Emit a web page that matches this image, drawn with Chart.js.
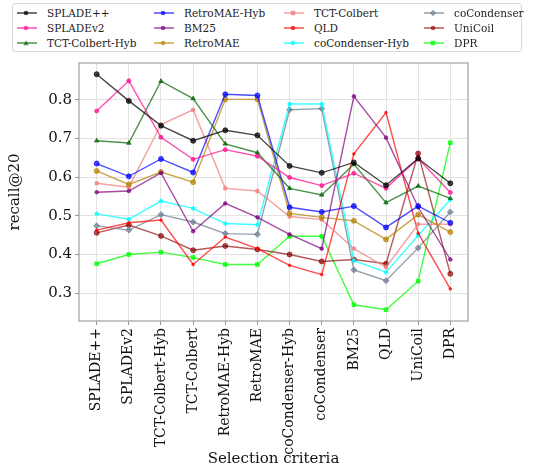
<!DOCTYPE html>
<html>
<head>
<meta charset="utf-8">
<script src="https://cdn.jsdelivr.net/npm/chart.js@4"></script>
<style>
    body { margin: 0; background: #fff; }
    #wrap { position: relative; width: 534px; height: 468px; }
    #legend {
        position: absolute; left: 12px; top: 3px; width: 508px; height: 47px;
        border: 1px solid #d8d8d8; border-radius: 3px; background: #fff;
        font-family: "DejaVu Serif", serif; font-size: 10.5px; color: #222;
    }
    .item { position: absolute; height: 14px; line-height: 14px; white-space: nowrap; }
    .item svg { position: absolute; left: 0; top: 2px; }
    .item span { position: absolute; left: 31px; top: 0; }
</style>
</head>
<body>
<div id="wrap">
    <canvas id="chart" width="534" height="468"></canvas>
    <div id="legend"></div>
</div>
<script>
// categories on the x axis
const categories = ['SPLADE++', 'SPLADEv2', 'TCT-Colbert-Hyb', 'TCT-Colbert', 'RetroMAE-Hyb', 'RetroMAE',
    'coCondenser-Hyb', 'coCondenser', 'BM25', 'QLD', 'UniCoil', 'DPR'];

// recall@20 per series
const spladePP       = [0.866, 0.797, 0.733, 0.694, 0.721, 0.708, 0.629, 0.611, 0.638, 0.579, 0.648, 0.584];
const spladeV2       = [0.771, 0.849, 0.703, 0.646, 0.671, 0.654, 0.599, 0.578, 0.610, 0.571, 0.648, 0.560];
const tctColbertHyb  = [0.694, 0.688, 0.848, 0.803, 0.686, 0.663, 0.571, 0.554, 0.633, 0.534, 0.577, 0.545];
const retroMaeHyb    = [0.635, 0.602, 0.647, 0.612, 0.814, 0.811, 0.522, 0.510, 0.525, 0.470, 0.525, 0.482];
const bm25           = [0.561, 0.564, 0.611, 0.460, 0.532, 0.496, 0.452, 0.415, 0.809, 0.702, 0.522, 0.387];
const retroMae       = [0.616, 0.581, 0.613, 0.587, 0.801, 0.801, 0.506, 0.496, 0.487, 0.439, 0.503, 0.458];
const tctColbert     = [0.584, 0.574, 0.736, 0.774, 0.571, 0.564, 0.498, 0.490, 0.415, 0.367, 0.478, 0.478];
const qld            = [0.463, 0.482, 0.489, 0.374, 0.445, 0.415, 0.372, 0.348, 0.660, 0.767, 0.455, 0.311];
const coCondenserHyb = [0.505, 0.491, 0.538, 0.519, 0.480, 0.477, 0.789, 0.789, 0.384, 0.354, 0.449, 0.542];
const coCondenser    = [0.474, 0.463, 0.503, 0.484, 0.454, 0.452, 0.774, 0.777, 0.360, 0.332, 0.417, 0.510];
const uniCoil        = [0.456, 0.476, 0.448, 0.411, 0.422, 0.413, 0.400, 0.382, 0.387, 0.376, 0.661, 0.350];
const dpr            = [0.376, 0.400, 0.406, 0.392, 0.374, 0.374, 0.447, 0.447, 0.270, 0.257, 0.331, 0.689];

const yTicks = [0.3, 0.4, 0.5, 0.6, 0.7, 0.8];

// legend order is column by column like the original
const series = [
    { label: 'SPLADE++',        data: spladePP,       color: 'rgba(0,0,0,0.72)',       point: 'circle',   r: 2.5 },
    { label: 'SPLADEv2',        data: spladeV2,       color: 'rgba(255,20,147,0.75)',  point: 'circle',   r: 2 },
    { label: 'TCT-Colbert-Hyb', data: tctColbertHyb,  color: 'rgba(0,100,0,0.7)',      point: 'triangle', r: 2.5 },
    { label: 'RetroMAE-Hyb',    data: retroMaeHyb,    color: 'rgba(0,0,255,0.7)',      point: 'circle',   r: 2.5 },
    { label: 'BM25',            data: bm25,           color: 'rgba(128,0,128,0.7)',    point: 'circle',   r: 1.8 },
    { label: 'RetroMAE',        data: retroMae,       color: 'rgba(184,134,11,0.75)',  point: 'circle',   r: 2.5 },
    { label: 'TCT-Colbert',     data: tctColbert,     color: 'rgba(240,128,128,0.75)', point: 'rect',     r: 2.2 },
    { label: 'QLD',             data: qld,            color: 'rgba(255,0,0,0.7)',      point: 'circle',   r: 1.3 },
    { label: 'coCondenser-Hyb', data: coCondenserHyb, color: 'rgba(0,255,255,0.75)',   point: 'circle',   r: 1.8 },
    { label: 'coCondenser',     data: coCondenser,    color: 'rgba(112,128,144,0.75)', point: 'rectRot',  r: 3 },
    { label: 'UniCoil',         data: uniCoil,        color: 'rgba(139,0,0,0.65)',     point: 'circle',   r: 2.5 },
    { label: 'DPR',             data: dpr,            color: 'rgba(0,255,0,0.75)',     point: 'rect',     r: 2.6 }
];

// gray frame around the plot
const framePlugin = {
    id: 'frame',
    afterDraw(chart) {
        const a = chart.chartArea, ctx = chart.ctx;
        ctx.save();
        ctx.strokeStyle = '#a8a8a8';
        ctx.lineWidth = 1.3;
        ctx.strokeRect(a.left, a.top, a.right - a.left, a.bottom - a.top);
        ctx.restore();
    }
};

const serif = '"DejaVu Serif", serif';

new Chart(document.getElementById('chart').getContext('2d'), {
    type: 'line',
    data: {
        datasets: series.map(s => ({
            label: s.label,
            data: s.data.map((v, i) => ({ x: i, y: v })),
            borderColor: s.color,
            backgroundColor: s.color,
            borderWidth: 1.4,
            pointStyle: s.point,
            pointRadius: s.r,
            pointBorderWidth: 1,
            tension: 0,
            fill: false
        }))
    },
    options: {
        responsive: false,
        animation: false,
        layout: { padding: { top: 63, right: 66, left: 0, bottom: 0 } },
        plugins: { legend: { display: false }, tooltip: { enabled: false } },
        scales: {
            x: {
                type: 'linear',
                min: -0.55,
                max: categories.length - 1 + 0.55,
                afterBuildTicks: scale => { scale.ticks = categories.map((c, i) => ({ value: i })); },
                afterFit: scale => { scale.height = 147; },
                ticks: {
                    callback: v => categories[v],
                    minRotation: 90, maxRotation: 90,
                    autoSkip: false,
                    padding: 3,
                    color: '#111',
                    font: { family: serif, size: 14 }
                },
                grid: { color: '#e2e2e2', borderDash: [2, 2], tickColor: '#999', tickLength: 4, tickBorderDash: [] },
                border: { display: false },
                title: { display: true, text: 'Selection criteria', color: '#111',
                         font: { family: serif, size: 15 }, padding: { top: 0, bottom: 0 } }
            },
            y: {
                min: 0.228,
                max: 0.895,
                afterBuildTicks: scale => { scale.ticks = yTicks.map(v => ({ value: v })); },
                afterFit: scale => { scale.width = 79; },
                ticks: {
                    callback: v => v.toFixed(1),
                    padding: 3,
                    color: '#111',
                    font: { family: serif, size: 15 }
                },
                grid: { color: '#e2e2e2', borderDash: [2, 2], tickColor: '#999', tickLength: 4, tickBorderDash: [] },
                border: { display: false },
                title: { display: true, text: 'recall@20', color: '#111',
                         font: { family: serif, size: 15 }, padding: { top: 6, bottom: 0 } }
            }
        }
    },
    plugins: [framePlugin]
});

// html legend, 3 rows x 4 columns
const legend = document.getElementById('legend');
const colX = [3, 140, 270, 410];
const rowY = [2, 17, 32];
series.forEach((s, i) => {
    const col = Math.floor(i / 3), row = i % 3;
    const div = document.createElement('div');
    div.className = 'item';
    div.style.left = colX[col] + 'px';
    div.style.top = rowY[row] + 'px';
    let mark = '<circle cx="10" cy="5" r="2.3" fill="' + s.color + '"/>';
    if (s.point === 'rect') mark = '<rect x="7.7" y="2.7" width="4.6" height="4.6" fill="' + s.color + '"/>';
    if (s.point === 'rectRot') mark = '<rect x="7.7" y="2.7" width="4.6" height="4.6" fill="' + s.color + '" transform="rotate(45 10 5)"/>';
    if (s.point === 'triangle') mark = '<polygon points="10,2.2 12.7,7.2 7.3,7.2" fill="' + s.color + '"/>';
    div.innerHTML = '<svg width="22" height="10"><line x1="1" y1="5" x2="21" y2="5" stroke="' + s.color +
        '" stroke-width="1.5"/>' + mark + '</svg><span>' + s.label + '</span>';
    legend.appendChild(div);
});
</script>
</body>
</html>
